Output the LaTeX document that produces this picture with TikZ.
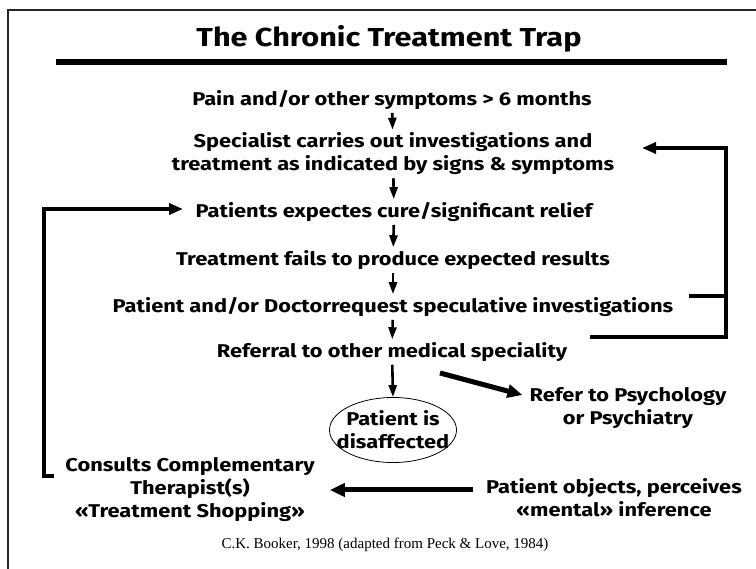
\documentclass[tikz,border=0pt]{standalone}
\usepackage{fontspec}
\setmainfont{Fira Sans}[FakeStretch=1.18]
\newfontfamily\citefont{Liberation Serif}
\usetikzlibrary{arrows.meta,positioning,shapes.geometric}

\begin{document}
\begin{tikzpicture}[x=1pt, y=-1pt,
    step box/.style={font=\bfseries\fontsize{18.5}{23}\selectfont, align=center, inner sep=1pt},
    flow/.style={-{Triangle[length=12pt, width=8pt]}, line width=2.6pt, shorten <=2pt, shorten >=2pt},
    loopline/.style={line width=4pt},
    loopback/.style={loopline, -{Triangle[length=14pt, width=11pt]}},
    fat/.style={-{Triangle[length=15pt, width=13pt]}, line width=5pt},
]
\useasboundingbox (0,0) rectangle (756,569);

% frame and heading
\draw[line width=1.6pt, black!85] (8,569) -- (8,10) -- (756,10);
\node[font=\bfseries\fontsize{26}{30}\selectfont] (title) at (389,39) {The Chronic Treatment Trap};
\draw[line width=6pt] (56,62) -- (727,62);

% main chain
\node[step box] (pain) at (392,100) {Pain and/or other symptoms > 6 months};
\node[step box] (spec) at (393,154) {Specialist carries out investigations and\\treatment as indicated by signs \& symptoms};
\node[step box] (cure) at (394,212) {Patients expectes cure/significant relief};
\node[step box] (fail) at (393,260) {Treatment fails to produce expected results};
\node[step box] (req) at (393,307) {Patient and/or Doctorrequest speculative investigations};
\node[step box] (refer) at (392,352) {Referral to other medical speciality};

% outcomes
\node[ellipse, draw, line width=0.8pt, minimum width=127pt, minimum height=65pt] (dis) at (393,430) {};
\node[step box] (distext) at (dis) {Patient is\\disaffected};
\node[step box] (psy) at (628,408) {Refer to Psychology\\or Psychiatry};
\node[step box] (shop) at (190,490) {Consults Complementary\\Therapist(s)\\«Treatment Shopping»};
\node[step box] (obj) at (614,498) {Patient objects, perceives\\«mental» inference};
\node[font=\citefont\fontsize{15}{17}\selectfont] (cite) at (385,545) {C.K. Booker, 1998 (adapted from Peck \& Love, 1984)};

% arrows down the chain
\draw[flow] (pain) -- (spec);
\draw[flow] (spec) -- (cure);
\draw[flow] (cure) -- (fail);
\draw[flow] (fail) -- (req);
\draw[flow] (req) -- (refer);
\draw[flow, shorten >=0pt] (refer) -- (dis.north);

\coordinate (dstart) at (440,373);
\draw[fat] (dstart) -- ([xshift=-6pt, yshift=13pt]psy.west);
\draw[fat, shorten <=12pt, shorten >=14pt] (obj.west |- shop.east) -- (shop.east);

% loop back to the specialist
\coordinate (rstub) at (689,296);
\coordinate (rbot) at (590,337);
\draw[loopline] (rstub) -- (726,296);
\draw[loopback] (rbot) -| (726,148) -- (642,148);

% loop back to expectations
\coordinate (lfoot) at (54,476);
\draw[loopback] (lfoot) -| (44,209) -- (183,209);
\end{tikzpicture}
\end{document}
